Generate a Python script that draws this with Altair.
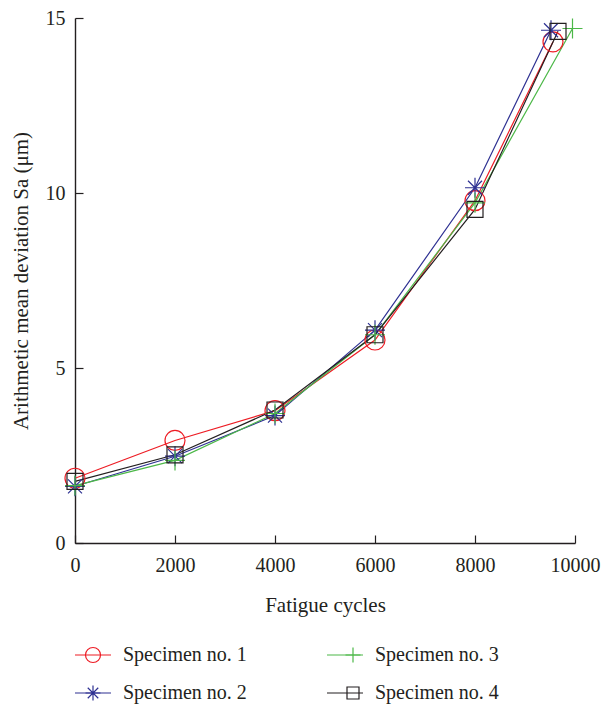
import altair as alt
import pandas as pd

# ---- data ----
specimens = ["Specimen no. 1", "Specimen no. 2", "Specimen no. 3", "Specimen no. 4"]
cycles_1 = [0, 2000, 4000, 6000, 8000, 9560]
sa_1 = [1.85, 2.93, 3.78, 5.80, 9.78, 14.32]
cycles_2 = [0, 2000, 4000, 6000, 8000, 9520]
sa_2 = [1.62, 2.48, 3.64, 6.08, 10.15, 14.65]
cycles_3 = [0, 2000, 4000, 6000, 8000, 9950]
sa_3 = [1.64, 2.36, 3.70, 5.95, 9.72, 14.70]
cycles_4 = [0, 2000, 4000, 6000, 8000, 9660]
sa_4 = [1.76, 2.52, 3.80, 5.95, 9.53, 14.62]
x_ticks = [0, 2000, 4000, 6000, 8000, 10000]
y_ticks = [0, 5, 10, 15]

rows = []
for name, cs, vs in zip(specimens, [cycles_1, cycles_2, cycles_3, cycles_4], [sa_1, sa_2, sa_3, sa_4]):
    for c, v in zip(cs, vs):
        rows.append({"specimen": name, "cycles": c, "sa": v})
df = pd.DataFrame(rows)

colors = ["#ed1c24", "#2e3192", "#4cb848", "#231f20"]
shapes = [
    "circle",
    "M-1,0L1,0M0,-1L0,1M-0.7,-0.7L0.7,0.7M-0.7,0.7L0.7,-0.7",
    "M-1,0L1,0M0,-1L0,1",
    "M-0.8,-0.8L0.8,-0.8L0.8,0.8L-0.8,0.8Z",
]

FONT = "Liberation Serif"
INK = "#231f20"
FS = 20
TFS = 21

xscale = alt.Scale(domain=[0, 10000], nice=False)
yscale = alt.Scale(domain=[0, 15], nice=False)

leg_line = alt.Legend(
    orient="none", legendX=-1, legendY=618, columns=2, title=None, padding=0,
    symbolType="stroke", symbolSize=1296, symbolStrokeWidth=1.2,
    labelOffset=11, columnPadding=77, rowPadding=9,
    labelFont=FONT, labelFontSize=FS, labelColor=INK, labelLimit=0,
)
leg_mark = alt.Legend(
    orient="none", legendX=-1, legendY=627, columns=2, title=None, padding=0,
    symbolSize=225, symbolStrokeWidth=1.2, symbolOffset=9,
    labelOffset=29, columnPadding=202, rowPadding=18,
    labelFont=FONT, labelFontSize=FS, labelColor=INK, labelExpr="''", labelLimit=0,
)

base = alt.Chart(df)

lines = base.mark_line(strokeWidth=1.2).encode(
    x=alt.X("cycles:Q", scale=xscale, axis=alt.Axis(
        orient="bottom", values=x_ticks, format="d", title="Fatigue cycles",
        ticks=False, tickSize=0, labelPadding=12, titlePadding=19, grid=False,
        labelFlush=False,
        domainColor=INK, domainWidth=1.4,
        labelFont=FONT, labelFontSize=FS, labelColor=INK,
        titleFont=FONT, titleFontSize=TFS, titleFontWeight="normal", titleColor=INK)),
    y=alt.Y("sa:Q", scale=yscale, axis=alt.Axis(
        orient="left", values=y_ticks, title="Arithmetic mean deviation Sa (μm)",
        ticks=False, tickSize=0, labelPadding=10, titlePadding=14, grid=False,
        labelFlush=False,
        domainColor=INK, domainWidth=1.4,
        labelFont=FONT, labelFontSize=FS, labelColor=INK,
        titleFont=FONT, titleFontSize=TFS, titleFontWeight="normal", titleColor=INK)),
    color=alt.Color("specimen:N", scale=alt.Scale(domain=specimens, range=colors), legend=leg_line),
    order=alt.Order("cycles:Q"),
)

points = base.mark_point(filled=False, size=400, strokeWidth=1.2, opacity=1).encode(
    x=alt.X("cycles:Q", scale=xscale, axis=alt.Axis(
        orient="top", offset=-525, values=x_ticks, labels=False, domain=False,
        title=None, tickSize=8, tickColor=INK, tickWidth=1.2, grid=False)),
    y=alt.Y("sa:Q", scale=yscale, axis=alt.Axis(
        orient="right", offset=-500, values=y_ticks, labels=False, domain=False,
        title=None, tickSize=8, tickColor=INK, tickWidth=1.2, grid=False)),
    color=alt.Color("specimen:N", scale=alt.Scale(domain=specimens, range=colors), legend=leg_mark),
    shape=alt.Shape("specimen:N", scale=alt.Scale(domain=specimens, range=shapes), legend=leg_mark),
)

chart = (
    alt.layer(lines, points)
    .resolve_scale(color="independent", shape="independent")
    .resolve_axis(x="independent", y="independent")
    .properties(
        width=500, height=525,
        padding={"left": 75, "top": 18, "right": 31, "bottom": 164},
        autosize=alt.AutoSizeParams(type="none"),
        background="white",
    )
    .configure_view(stroke=None)
)

chart.save("out.html", embed_options={"renderer": "svg", "actions": False})
